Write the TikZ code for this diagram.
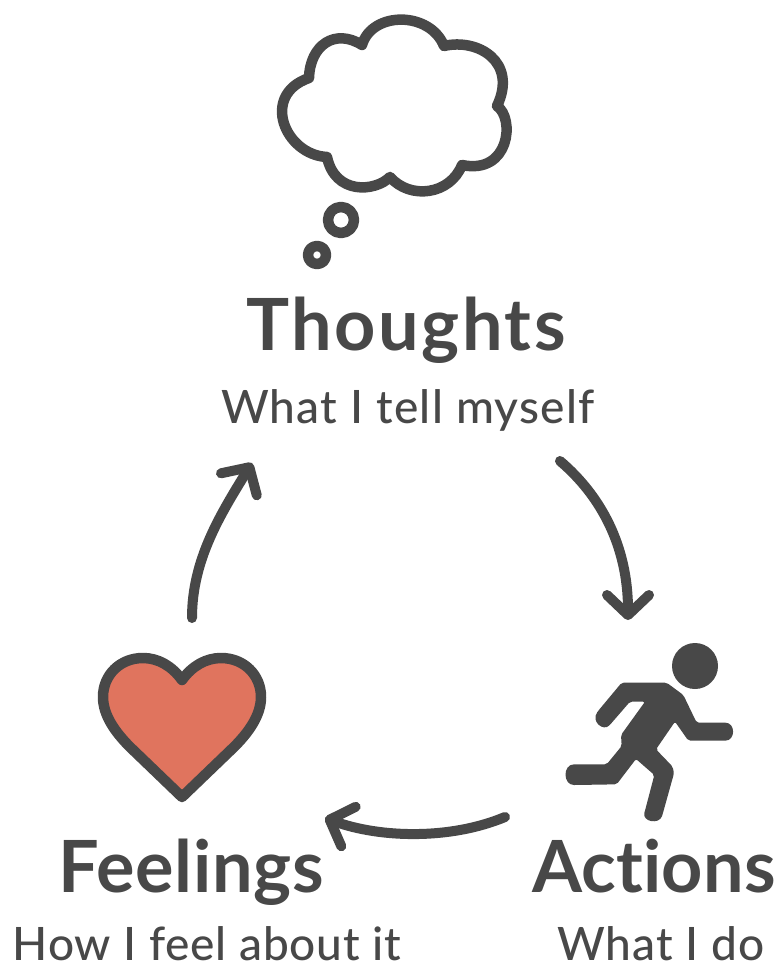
\documentclass[tikz,border=0pt]{standalone}
\usepackage{fontspec}
\setmainfont{Lato}[Ligatures=NoCommon]
\newfontfamily\subfont{Lato Medium}[Ligatures=NoCommon]
\usepackage{xcolor}
\usetikzlibrary{arrows.meta}
\definecolor{inkgray}{HTML}{484848}
\definecolor{heartred}{HTML}{E0745E}
\tikzset{
  headlabel/.style={anchor=base,inner sep=0pt,text=inkgray,font=\fontsize{72}{80}\selectfont\bfseries\addfontfeature{LetterSpace=#1}},
  sublabel/.style={anchor=base,inner sep=0pt,text=inkgray,font=\fontsize{46}{54}\selectfont\subfont\addfontfeature{LetterSpace=#1}},
  outline/.style={draw=inkgray,line width=10.5pt,line join=round},
  cycle/.style={draw=inkgray,line width=10pt,line cap=round,-{Straight Barb[round,length=20pt,width=42pt]}}
}
\begin{document}
\begin{tikzpicture}[x=1pt,y=-1pt]
\useasboundingbox (0,0) rectangle (783,973);
% cloud and its two bubbles
\draw[outline] (362,45) .. controls (372,11) and (430,11) .. (444,46)
  .. controls (478,38) and (518,62) .. (497,106)
  .. controls (515,118) and (510,175) .. (462,165)
  .. controls (450,195) and (410,200) .. (390,177)
  .. controls (375,192) and (335,195) .. (327,157)
  .. controls (285,155) and (260,95) .. (309,78)
  .. controls (310,45) and (335,28) .. (362,45) -- cycle;
\draw[outline] (341,220) circle (13);
\draw[outline] (317,255) circle (9);
% heart
\draw[outline,fill=heartred] (182,680) .. controls (172,666) and (158,658) .. (143,658)
  .. controls (120,658) and (103,675) .. (103,697)
  .. controls (103,715) and (115,732) .. (130,747)
  -- (182,797) -- (234,747)
  .. controls (249,732) and (261,715) .. (261,697)
  .. controls (261,675) and (244,658) .. (221,658)
  .. controls (206,658) and (192,666) .. (182,680) -- cycle;
% runner
\fill[inkgray] (695,666) circle (23);
\begin{scope}[shift={(550,620)},scale=1/3]
\fill[inkgray,rounded corners=2pt] (215,188) -- (350,188) -- (400,225) -- (440,308) -- (520,308)
  .. controls (557,308) and (557,362) .. (520,362)
  -- (415,362) -- (375,305) -- (318,388) -- (368,440) -- (372,460) -- (338,582)
  .. controls (328,615) and (275,605) .. (285,572)
  -- (313,465) -- (258,417) -- (200,493) -- (78,495)
  .. controls (38,495) and (38,433) .. (78,433)
  -- (170,433) -- (215,378) -- (213,345) -- (285,245) -- (240,245) -- (182,312)
  .. controls (160,335) and (122,305) .. (145,272) -- cycle;
\end{scope}
% labels
\node[headlabel=3.6] (thoughts) at (406,350) {Thoughts};
\node[sublabel=2.8] (thoughtssub) at (408,423) {What I tell myself};
\node[headlabel=0.9] (feelings) at (191,892) {Feelings};
\node[sublabel=1.8] (feelingssub) at (207,960) {How I feel about it};
\node[headlabel=0.3] (actions) at (654,892) {Actions};
\node[sublabel=2.4] (actionssub) at (661,960) {What I do};
% ends of the loop
\coordinate (thoughtsout) at (560,461);
\coordinate (actionsin) at (628,620);
\coordinate (actionsout) at (505,817);
\coordinate (feelingsin) at (325,818);
\coordinate (feelingsout) at (192,618);
\coordinate (thoughtsin) at (252,463);
\draw[cycle] (thoughtsout) .. controls (600,495) and (628,545) .. (actionsin);
\draw[cycle] (actionsout) .. controls (450,840) and (380,838) .. (feelingsin);
\draw[cycle] (feelingsout) .. controls (192,560) and (220,515) .. (thoughtsin);
\end{tikzpicture}
\end{document}
